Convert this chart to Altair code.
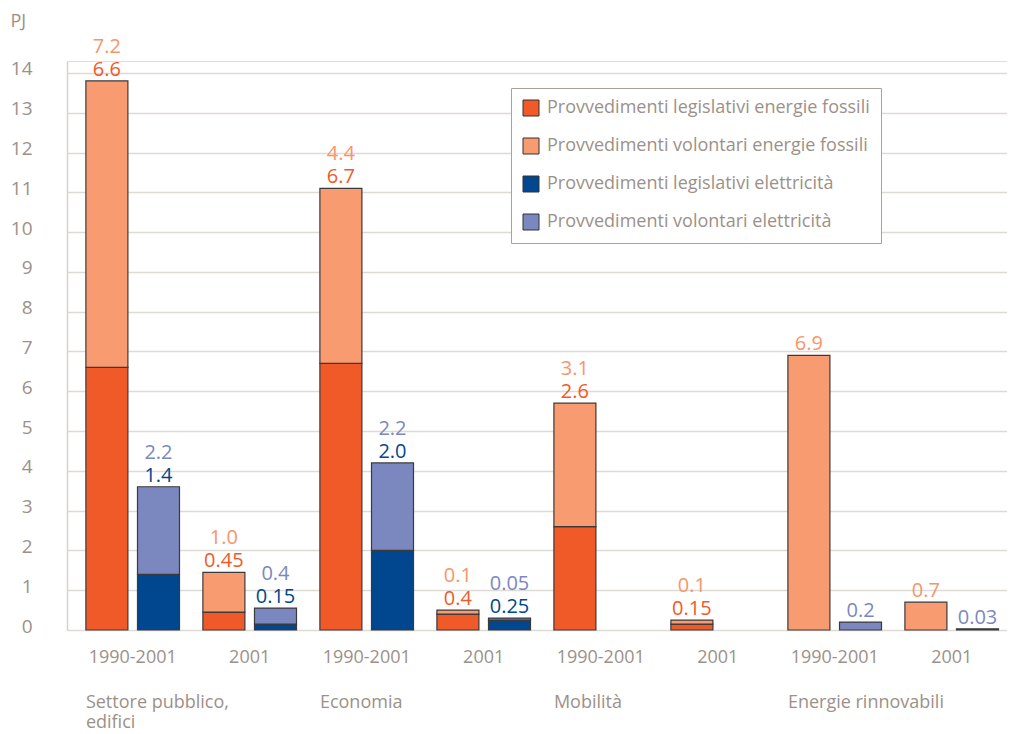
import altair as alt
import pandas as pd

FONT = "Open Sans"
GRAY = "#9c9188"

groups = ["Settore pubblico, edifici", "Economia", "Mobilità", "Energie rinnovabili"]
group_lines = ["Settore pubblico,\nedifici", "Economia", "Mobilità", "Energie rinnovabili"]
periods = ["1990-2001", "2001"]
kinds = ["fossil", "elec"]

fossil_leg = [6.6, 0.45, 6.7, 0.4, 2.6, 0.15, 0.0, 0.0]
fossil_vol = [7.2, 1.0, 4.4, 0.1, 3.1, 0.1, 6.9, 0.7]
elec_leg = [1.4, 0.15, 2.0, 0.25, None, None, 0.0, 0.0]
elec_vol = [2.2, 0.4, 2.2, 0.05, None, None, 0.2, 0.03]

fossil_leg_lbl = ["6.6", "0.45", "6.7", "0.4", "2.6", "0.15", "", ""]
fossil_vol_lbl = ["7.2", "1.0", "4.4", "0.1", "3.1", "0.1", "6.9", "0.7"]
elec_leg_lbl = ["1.4", "0.15", "2.0", "0.25", "", "", "", ""]
elec_vol_lbl = ["2.2", "0.4", "2.2", "0.05", "", "", "0.2", "0.03"]

series = [
    "Provvedimenti legislativi energie fossili",
    "Provvedimenti volontari energie fossili",
    "Provvedimenti legislativi elettricità",
    "Provvedimenti volontari elettricità",
]
bar_colors = ["#f05a28", "#f89b71", "#00478f", "#7b88c0"]
label_colors = ["#f05a28", "#f7956b", "#00478f", "#7b88c0"]

slots = [f"{g}|{p}" for g in groups for p in periods]

bar_rows, lbl_rows = [], []
for i, s in enumerate(slots):
    for kind, leg, vol, legl, voll, si in [
        ("fossil", fossil_leg[i], fossil_vol[i], fossil_leg_lbl[i], fossil_vol_lbl[i], 0),
        ("elec", elec_leg[i], elec_vol[i], elec_leg_lbl[i], elec_vol_lbl[i], 2),
    ]:
        if vol is None:
            continue
        if leg > 0:
            bar_rows.append(dict(slot=s, kind=kind, series=series[si], ord=0, value=leg))
        if vol > 0:
            bar_rows.append(dict(slot=s, kind=kind, series=series[si + 1], ord=1, value=vol))
        total = leg + vol
        if legl:
            lbl_rows.append(dict(slot=s, kind=kind, total=total, text=legl, color=label_colors[si], pos="lowb"))
            lbl_rows.append(dict(slot=s, kind=kind, total=total, text=voll, color=label_colors[si + 1], pos="up"))
        else:
            lbl_rows.append(dict(slot=s, kind=kind, total=total, text=voll, color=label_colors[si + 1], pos="low"))

bars_df = pd.DataFrame(bar_rows)
lbl_df = pd.DataFrame(lbl_rows)
grp_df = pd.DataFrame({"slot": [f"{g}|{periods[0]}" for g in groups], "text": group_lines})

x_scale = alt.Scale(domain=slots, paddingInner=0.2, paddingOuter=0.117, align=0.69)
xo_scale = alt.Scale(domain=kinds, paddingInner=0.186, paddingOuter=0)
y_scale = alt.Scale(domain=[0, 14.3], nice=False, zero=True)

x_enc = alt.X(
    "slot:N", sort=slots, scale=x_scale, title=None,
    axis=alt.Axis(
        labelExpr="split(datum.label, '|')[1]", domain=False, ticks=False, grid=False,
        labelPadding=18, labelFontSize=18, labelColor=GRAY, labelFont=FONT, labelAngle=0,
    ),
)
xo_enc = alt.XOffset("kind:N", scale=xo_scale)

bars = alt.Chart(bars_df).transform_stack(
    stack="value", groupby=["slot", "kind"], as_=["y0", "y1"], sort=[alt.SortField("ord", order="ascending")]
).mark_bar(stroke="#3a3a3a", strokeWidth=1.2).encode(
    x=x_enc,
    xOffset=xo_enc,
    y=alt.Y(
        "y0:Q", scale=y_scale,
        axis=alt.Axis(
            values=list(range(0, 15)), title="PJ", titleAngle=0, titleX=-57, titleY=-35,
            titleAlign="left", titleBaseline="alphabetic", titleFontSize=18, titleFontWeight="normal",
            titleColor=GRAY, titleFont=FONT,
            labelFontSize=19, labelColor=GRAY, labelFont=FONT, labelPadding=35, labelOffset=-4,
            ticks=False, domain=True, domainColor="#d6d2ce", domainWidth=1.5,
            grid=True, gridColor="#dedad6", gridWidth=1.5,
        ),
    ),
    y2="y1:Q",
    color=alt.Color(
        "series:N", scale=alt.Scale(domain=series, range=bar_colors),
        legend=alt.Legend(
            title=None, orient="none", legendX=444, legendY=27, direction="vertical",
            symbolType="square", symbolSize=256, symbolStrokeColor="#333333", symbolStrokeWidth=1,
            labelFontSize=18, labelColor=GRAY, labelFont=FONT, labelLimit=600,
            rowPadding=18, padding=11, strokeColor="#aaa29a", fillColor="white", labelOffset=7,
        ),
    ),
)

def label_layer(pos, dy, weight):
    return alt.Chart(lbl_df).transform_filter(alt.datum.pos == pos).mark_text(
        dy=dy, baseline="alphabetic", align="center", fontSize=20, font=FONT, fontWeight=weight
    ).encode(
        x=alt.X("slot:N", sort=slots, scale=x_scale),
        xOffset=xo_enc,
        y=alt.Y("total:Q", scale=y_scale),
        text="text:N",
        fill=alt.Fill("color:N", scale=None),
    )

lab_lowb = label_layer("lowb", -5, 500)
lab_low = label_layer("low", -5, 400)
lab_up = label_layer("up", -28, 400)

grp = alt.Chart(grp_df).mark_text(
    align="left", baseline="alphabetic", fontSize=18, font=FONT, color=GRAY, lineBreak="\n", lineHeight=20
).encode(
    x=alt.X("slot:N", sort=slots, scale=x_scale, bandPosition=0),
    y=alt.value(647),
    text="text:N",
)

chart = alt.layer(bars, lab_lowb, lab_low, lab_up, grp).properties(
    width=940, height=569, padding={"left": 2, "top": 4, "right": 0, "bottom": 0}
).configure_view(stroke=None).configure(font=FONT)

chart.save("out.html", embed_options={"renderer": "svg", "actions": False})
